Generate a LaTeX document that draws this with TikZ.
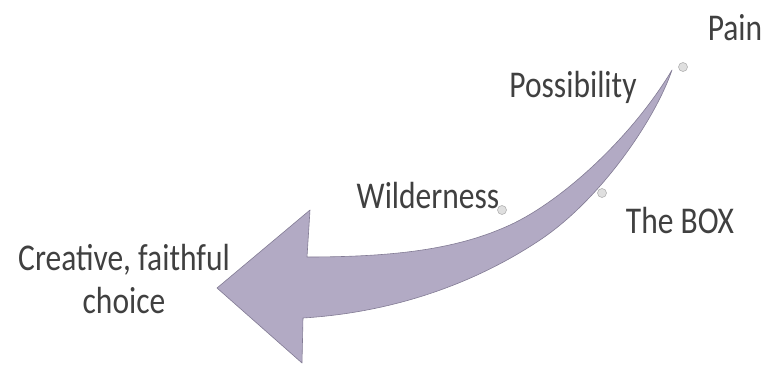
\documentclass[tikz,border=0pt]{standalone}
\usepackage{fontspec}
\setmainfont{Carlito}
\usepackage{xcolor}
\definecolor{bandfill}{RGB}{178,170,196}
\definecolor{bandedge}{RGB}{130,123,148}
\definecolor{txtgray}{RGB}{64,64,64}
\usetikzlibrary{positioning}

\begin{document}
\begin{tikzpicture}[x=1pt,y=-1pt,
  lbl/.style={font=\fontsize{31.5}{36}\selectfont,text=txtgray,yscale=1.2,
              inner sep=0pt,align=center},
  dot/.style={circle,draw=gray!60,fill=gray!25,minimum size=9pt,
              inner sep=0pt,line width=0.6pt},
  band/.style={fill=bandfill,draw=bandedge,line width=0.6pt,line join=round}
]
  \useasboundingbox (0,0) rectangle (765,364);

  % Curved arrow
  \coordinate (tail) at (672,70);
  \path[band] (307,257) -- (310,210) -- (217,288) -- (302,363) -- (303,318)
    .. controls (400,312) and (480,280) .. (540,240)
    .. controls (600,200) and (655,120) .. (tail)
    .. controls (630,140) and (560,202) .. (510,225)
    .. controls (460,248) and (400,257) .. (307,257)
    -- cycle;

  % Markers
  \node[dot] (mpain) at (683,67)  {};
  \node[dot] (mbox)  at (602,193) {};
  \node[dot] (mwild) at (502,210) {};

  % Labels
  \node[lbl,anchor=base] (pain)   at (735,40)  {Pain};
  \node[lbl,anchor=base] (poss)   at (573,97)  {Possibility};
  \node[lbl,anchor=base] (wild)   at (428,208) {Wilderness};
  \node[lbl,anchor=base] (box)    at (680,233) {The BOX};
  \node[lbl]             (choice) at (124,279) {Creative, faithful\\choice};
\end{tikzpicture}
\end{document}
